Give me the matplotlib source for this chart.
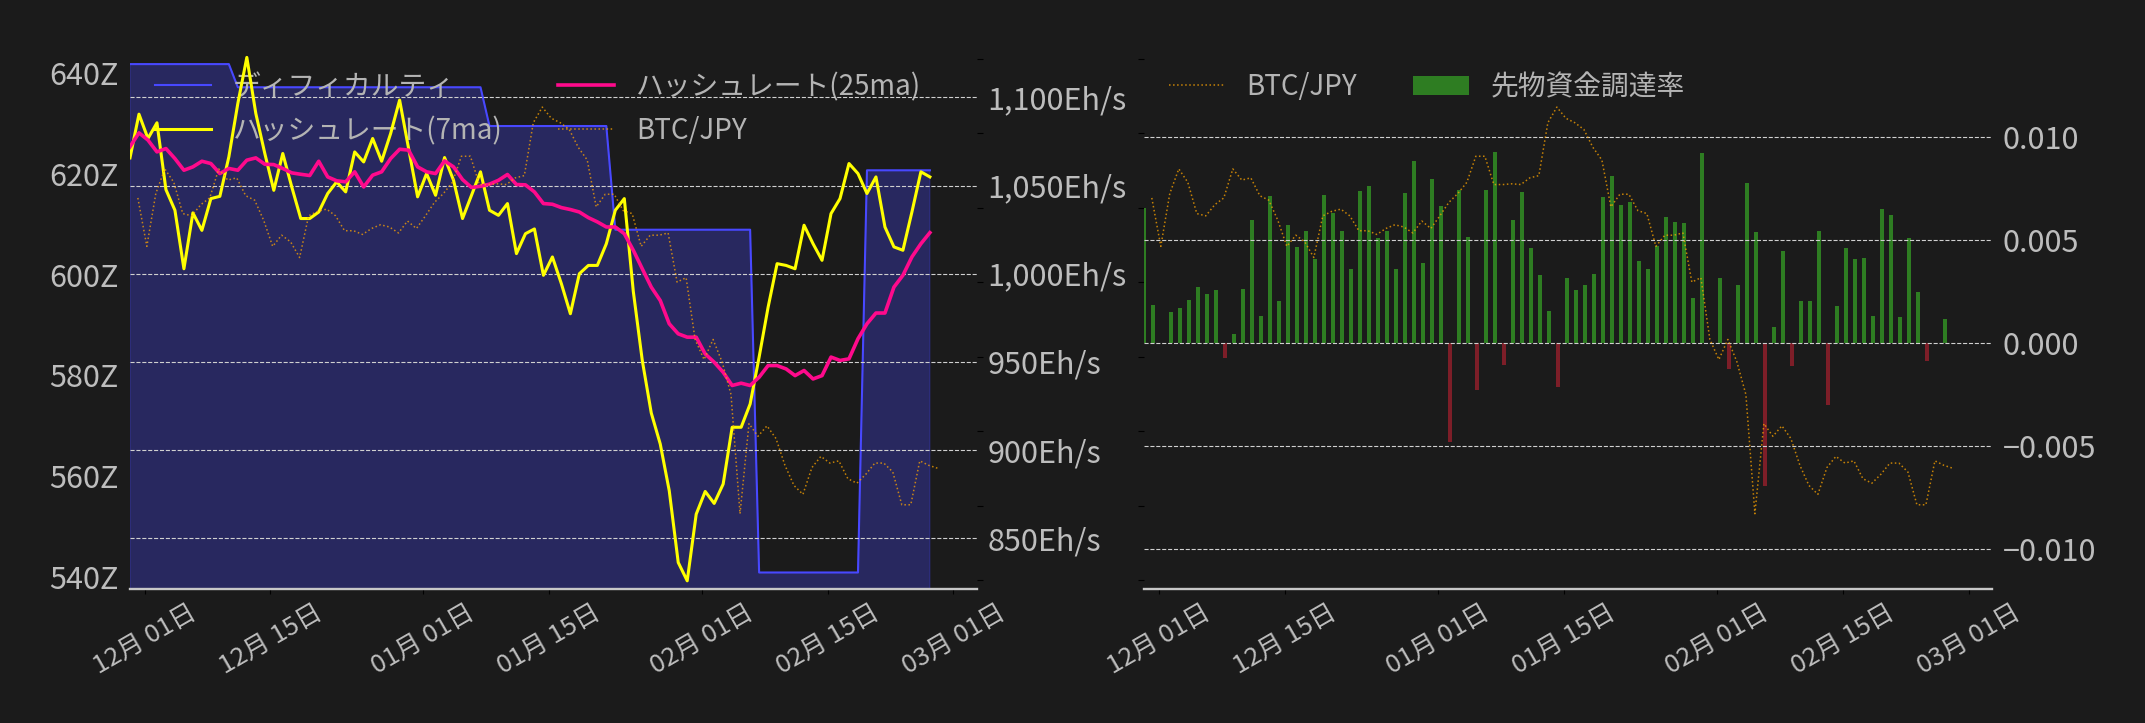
import numpy as np
import pandas as pd
import matplotlib
matplotlib.use('Agg')
import matplotlib.pyplot as plt
import matplotlib.dates as mdates
from matplotlib.ticker import MultipleLocator, FuncFormatter, NullFormatter

plt.rcParams['font.family'] = ['Noto Sans CJK JP', 'DejaVu Sans']
plt.rcParams['axes.unicode_minus'] = True

BG = '#1b1b1b'
TXT = '#bdbdbd'
LEG = '#b4b4b4'
FS = 22        # y tick labels
FS_X = 18.5    # date labels
FS_LEG = 20

# --- data (daily) ---
start = pd.Timestamp('2025-11-29 09:00')
days = pd.date_range(start, periods=90, freq='D')
btc_days = days + pd.Timedelta(hours=21)

# hashrate, 7 day moving average (Eh/s)
hash_7ma = [1065.7, 1090.5, 1076.7, 1085.6, 1047.7, 1036.0, 1002.8, 1034.5, 1024.6, 1042.6,
            1043.9, 1066.3, 1096.6, 1122.7, 1090.9, 1068.2, 1047.3, 1068.2, 1049.2, 1031.3,
            1031.3, 1035.0, 1045.5, 1052.1, 1046.4, 1069.1, 1063.4, 1076.7, 1063.8, 1079.5,
            1098.5, 1071.0, 1043.6, 1056.8, 1044.5, 1065.9, 1053.0, 1031.3, 1044.5, 1057.8,
            1036.0, 1033.1, 1039.8, 1011.4, 1022.7, 1025.4, 999.1, 1009.5, 994.3, 977.3,
            1000.0, 1004.7, 1004.7, 1017.0, 1036.0, 1042.6, 990.0, 950.8, 921.0, 903.4,
            876.9, 836.2, 825.8, 863.6, 876.5, 869.7, 880.7, 912.9, 912.9, 926.1,
            952.7, 981.0, 1005.7, 1004.7, 1002.8, 1027.5, 1017.0, 1007.6, 1034.1, 1042.6,
            1062.5, 1056.8, 1045.5, 1054.9, 1026.5, 1015.2, 1013.3, 1035.0, 1057.8, 1054.9]

# hashrate, 25 day moving average (Eh/s)
hash_25ma = [1072.0, 1079.9, 1075.8, 1069.1, 1071.0, 1065.3, 1058.7, 1060.6, 1063.8, 1062.5,
             1056.8, 1059.7, 1058.7, 1064.4, 1065.7, 1062.1, 1061.9, 1059.7, 1057.2, 1056.4,
             1055.7, 1063.8, 1054.9, 1052.7, 1052.1, 1057.8, 1049.2, 1055.9, 1057.8, 1065.3,
             1070.6, 1070.1, 1060.6, 1057.8, 1056.8, 1064.0, 1060.6, 1053.4, 1048.9, 1049.6,
             1050.8, 1053.0, 1056.3, 1050.6, 1050.4, 1046.4, 1039.8, 1039.4, 1037.5, 1036.4,
             1035.0, 1031.8, 1029.4, 1026.5, 1026.5, 1022.7, 1013.3, 1002.8, 992.4, 984.8,
             971.6, 965.9, 964.0, 964.0, 954.5, 949.8, 944.1, 936.6, 937.9, 936.6,
             941.3, 947.9, 947.9, 946.0, 942.2, 945.1, 940.3, 942.2, 952.7, 950.8,
             951.7, 963.1, 971.6, 977.7, 977.7, 992.4, 999.1, 1009.5, 1017.0, 1023.3]

# difficulty (Z): level of each epoch and number of days it lasts in the window
diff_levels = [641.8, 637.2, 629.5, 608.9, 540.8, 620.7]
diff_days = [12, 28, 14, 16, 12, 8]
difficulty = np.repeat(diff_levels, diff_days)

# BTC/JPY (million yen)
btc_jpy = [15.13, 14.48, 15.19, 15.52, 15.34, 14.92, 14.89, 15.04, 15.13, 15.52,
           15.37, 15.40, 15.16, 15.10, 14.83, 14.48, 14.63, 14.54, 14.33, 14.89,
           14.95, 14.98, 14.89, 14.69, 14.69, 14.64, 14.72, 14.77, 14.74, 14.66,
           14.82, 14.72, 14.89, 15.07, 15.19, 15.34, 15.69, 15.69, 15.31, 15.31,
           15.32, 15.31, 15.40, 15.43, 16.14, 16.35, 16.20, 16.14, 16.05, 15.81,
           15.64, 15.01, 15.18, 15.18, 14.96, 14.92, 14.48, 14.63, 14.63, 14.66,
           14.00, 14.06, 13.23, 12.96, 13.23, 12.93, 12.49, 10.89, 12.10, 11.93,
           12.07, 11.90, 11.54, 11.27, 11.15, 11.51, 11.66, 11.57, 11.60, 11.36,
           11.30, 11.42, 11.57, 11.57, 11.45, 11.01, 11.01, 11.60, 11.54, 11.50]

# futures funding rate
funding = [0.00656, 0.00185, 0.0, 0.00151, 0.00174, 0.00213, 0.00273, 0.00239, 0.00258, -0.00069,
           0.00047, 0.00262, 0.00598, 0.00131, 0.00714, 0.00204, 0.00574, 0.00469, 0.00544, 0.00411,
           0.00720, 0.00632, 0.00544, 0.00363, 0.00740, 0.00763, 0.00512, 0.00544, 0.00363, 0.00729,
           0.00886, 0.00389, 0.00798, 0.00667, -0.00477, 0.00744, 0.00518, -0.00224, 0.00744, 0.00929,
           -0.00103, 0.00598, 0.00733, 0.00465, 0.00331, 0.00155, -0.00211, 0.00316, 0.00258, 0.00286,
           0.00335, 0.00710, 0.00813, 0.00671, 0.00686, 0.00398, 0.00361, 0.00475, 0.00613, 0.00589,
           0.00583, 0.00219, 0.00925, 0.0, 0.00316, -0.00123, 0.00286, 0.00778, 0.00540, -0.00692,
           0.00082, 0.00447, -0.00112, 0.00204, 0.00204, 0.00548, -0.00301, 0.00181, 0.00462, 0.00409,
           0.00417, 0.00131, 0.00652, 0.00622, 0.00127, 0.00510, 0.00252, -0.00086, 0.0, 0.00120]

xlim = (days[0], days[0] + pd.Timedelta(days=94.2))


def style_xaxis(ax):
    ax.set_xlim(*xlim)
    ax.xaxis.set_major_locator(mdates.DayLocator(bymonthday=[1, 15]))
    ax.xaxis.set_major_formatter(mdates.DateFormatter('%m月 %d日'))
    ax.tick_params(axis='x', colors='black', labelcolor=TXT, labelsize=FS_X,
                   labelrotation=30, length=3.5, pad=4)
    for lbl in ax.get_xticklabels():
        lbl.set_ha('center')
    for s in ['top', 'left', 'right']:
        ax.spines[s].set_visible(False)
    ax.spines['bottom'].set_color('#c8c8c8')
    ax.spines['bottom'].set_linewidth(1.7)


def hide_spines(ax):
    for s in ax.spines.values():
        s.set_visible(False)


fig = plt.figure(figsize=(21.45, 7.23), dpi=100, facecolor=BG)
box_y, box_h = 0.1852, 0.7498

# ---- left: difficulty / hashrate / BTC ----
ax1 = fig.add_axes([0.0606, box_y, 0.3947, box_h])
ax1.set_facecolor(BG)
ax1.fill_between(days, difficulty, 0, color='#4848ff', alpha=0.3, lw=0.8)
l_diff, = ax1.plot(days, difficulty, color='#4848ff', lw=1.5, label='ディフィカルティ')
ax1.set_ylim(537.5, 645.2)
ax1.yaxis.set_major_locator(MultipleLocator(20))
ax1.yaxis.set_major_formatter(FuncFormatter(lambda v, p: f'{v:.0f}Z'))
ax1.tick_params(axis='y', length=0, pad=8, labelcolor=TXT, labelsize=FS)
style_xaxis(ax1)

ax_h = ax1.twinx()
hide_spines(ax_h)
l7, = ax_h.plot(days, hash_7ma, color='#ffff00', lw=2.2, label='ハッシュレート(7ma)')
l25, = ax_h.plot(days, hash_25ma, color='#ff0a8c', lw=2.6, label='ハッシュレート(25ma)')
ax_h.set_ylim(821.1, 1128.6)
ax_h.yaxis.set_major_locator(MultipleLocator(50))
ax_h.yaxis.set_major_formatter(FuncFormatter(lambda v, p: f'{v:,.0f}Eh/s'))
ax_h.tick_params(axis='y', length=0, pad=8, labelcolor=TXT, labelsize=FS)
ax_h.grid(axis='y', color='#d0d0d0', ls='--', lw=0.8)

ax_b = ax1.twinx()
hide_spines(ax_b)
l_btc, = ax_b.plot(btc_days, btc_jpy, color='orange', alpha=0.75, lw=1.1, ls=':', label='BTC/JPY')
ax_b.set_ylim(9.878, 17.157)
ax_b.yaxis.set_major_locator(MultipleLocator(1))
ax_b.yaxis.set_major_formatter(NullFormatter())
ax_b.tick_params(axis='y', colors='black', length=4)

ax1.legend(handles=[l_diff, l7, l25, l_btc], ncol=2, loc='upper left', frameon=False,
           fontsize=FS_LEG, labelcolor=LEG, columnspacing=2.0)

# ---- right: BTC / funding rate ----
ax2 = fig.add_axes([0.5333, box_y, 0.3953, box_h])
ax2.set_facecolor(BG)
style_xaxis(ax2)
ax2.set_ylim(9.878, 17.157)
ax2.yaxis.set_major_locator(MultipleLocator(1))
ax2.yaxis.set_major_formatter(NullFormatter())
ax2.tick_params(axis='y', colors='black', length=4)

ax_f = ax2.twinx()
hide_spines(ax_f)
bar_colors = ['#2e7d22' if v >= 0 else '#7d1e28' for v in funding]
bars = ax_f.bar(days, funding, width=0.45, color=bar_colors, label='先物資金調達率')
ax_f.set_ylim(-0.011933, 0.014395)
ax_f.yaxis.set_major_locator(MultipleLocator(0.005))
ax_f.tick_params(axis='y', length=0, pad=8, labelcolor=TXT, labelsize=FS)
ax_f.set_axisbelow(False)
ax_f.grid(axis='y', color='#d0d0d0', ls='--', lw=0.8)

ax_l = ax2.twinx()
hide_spines(ax_l)
ax_l.set_yticks([])
ax_l.set_ylim(9.878, 17.157)
l_btc2, = ax_l.plot(btc_days, btc_jpy, color='orange', alpha=0.75, lw=1.1, ls=':', label='BTC/JPY')

ax_l.legend(handles=[l_btc2, bars], ncol=2, loc='upper left', frameon=False,
            fontsize=FS_LEG, labelcolor=LEG, columnspacing=2.0)

fig.savefig('out.png', dpi=100, facecolor=BG)
